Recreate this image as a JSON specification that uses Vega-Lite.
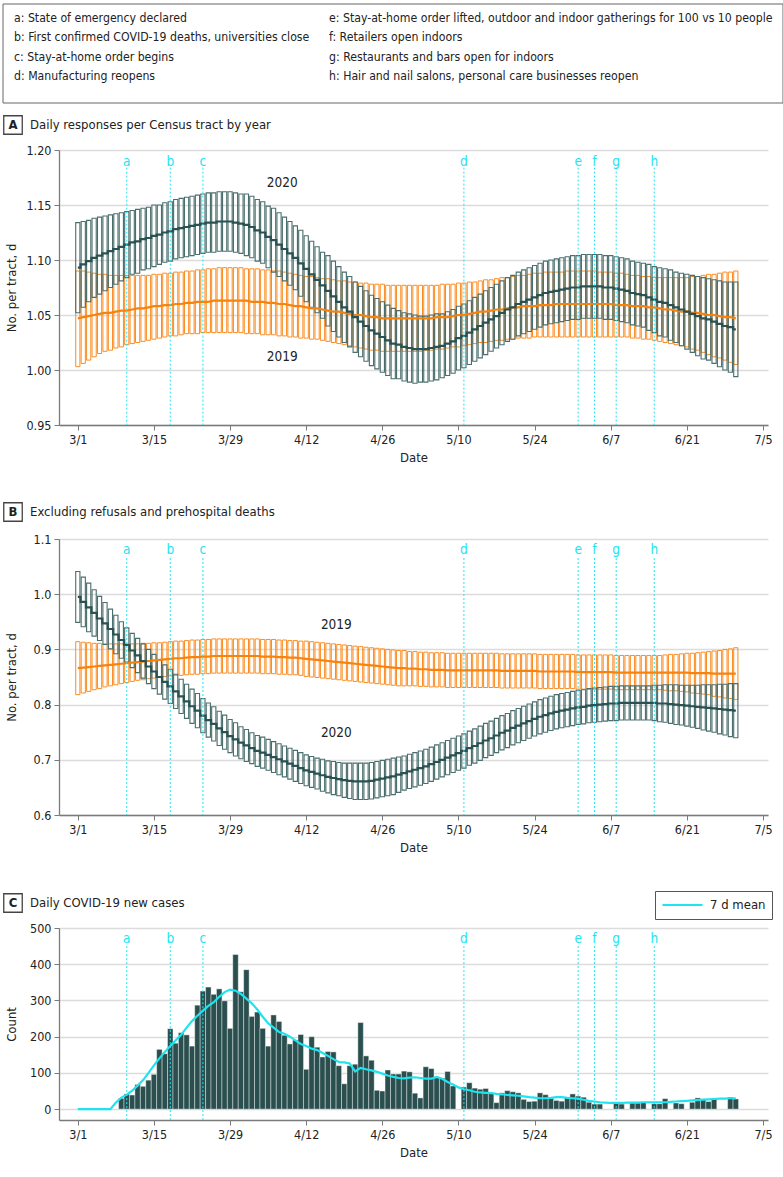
{
"$schema": "https://vega.github.io/schema/vega-lite/v6.json",
"padding": {"left": 1, "top": 3, "right": 0, "bottom": 0},
"background": "white",
"spacing": 0,
"config": {
  "font": "Liberation Sans Narrow, Arial Narrow, DejaVu Sans Condensed, sans-serif",
  "view": {"stroke": null},
  "axis": {"labelFont": "Liberation Sans Narrow, Arial Narrow, DejaVu Sans Condensed, sans-serif", "titleFont": "Liberation Sans Narrow, Arial Narrow, DejaVu Sans Condensed, sans-serif", "labelFontSize": 12.5, "titleFontSize": 13, "titleFontWeight": "normal", "labelColor": "#222", "titleColor": "#222", "domainColor": "#7a7a7a", "domainWidth": 1.3, "tickColor": "#7a7a7a", "tickSize": 5, "labelPadding": 3, "gridColor": "#dcdcdc", "gridWidth": 1.5, "labelOverlap": false},
  "axisX": {"grid": false, "titlePadding": 6, "labelFlush": false},
  "axisY": {"grid": true, "minExtent": 34, "maxExtent": 34, "titlePadding": 7}
},
"datasets": {
"legendText": [
{"col":0,"row":0,"text":"a: State of emergency declared"},
{"col":0,"row":1,"text":"b: First confirmed COVID-19 deaths, universities close"},
{"col":0,"row":2,"text":"c: Stay-at-home order begins"},
{"col":0,"row":3,"text":"d: Manufacturing reopens"},
{"col":1,"row":0,"text":"e: Stay-at-home order lifted, outdoor and indoor gatherings for 100 vs 10 people"},
{"col":1,"row":1,"text":"f: Retailers open indoors"},
{"col":1,"row":2,"text":"g: Restaurants and bars open for indoors"},
{"col":1,"row":3,"text":"h: Hair and nail salons, personal care businesses reopen"}
],
"events": [
{"ev":"a","date":"2020-03-10"},{"ev":"b","date":"2020-03-18"},{"ev":"c","date":"2020-03-24"},{"ev":"d","date":"2020-05-11"},
{"ev":"e","date":"2020-06-01"},{"ev":"f","date":"2020-06-04"},{"ev":"g","date":"2020-06-08"},{"ev":"h","date":"2020-06-15"}
],
"cases": [
{"date":"2020-03-09","n":30},{"date":"2020-03-10","n":42},{"date":"2020-03-11","n":39},{"date":"2020-03-12","n":68},{"date":"2020-03-13","n":63},{"date":"2020-03-14","n":80},{"date":"2020-03-15","n":96},{"date":"2020-03-16","n":165},{"date":"2020-03-17","n":153},{"date":"2020-03-18","n":222},{"date":"2020-03-19","n":182},{"date":"2020-03-20","n":211},{"date":"2020-03-21","n":205},{"date":"2020-03-22","n":174},{"date":"2020-03-23","n":287},{"date":"2020-03-24","n":326},{"date":"2020-03-25","n":337},{"date":"2020-03-26","n":317},{"date":"2020-03-27","n":332},{"date":"2020-03-28","n":299},{"date":"2020-03-29","n":223},{"date":"2020-03-30","n":427},{"date":"2020-03-31","n":324},
{"date":"2020-04-01","n":385},{"date":"2020-04-02","n":256},{"date":"2020-04-03","n":268},{"date":"2020-04-04","n":223},{"date":"2020-04-05","n":174},{"date":"2020-04-06","n":260},{"date":"2020-04-07","n":242},{"date":"2020-04-08","n":204},{"date":"2020-04-09","n":180},{"date":"2020-04-10","n":191},{"date":"2020-04-11","n":206},{"date":"2020-04-12","n":110},{"date":"2020-04-13","n":200},{"date":"2020-04-14","n":171},{"date":"2020-04-15","n":144},{"date":"2020-04-16","n":159},{"date":"2020-04-17","n":158},{"date":"2020-04-18","n":120},{"date":"2020-04-19","n":70},{"date":"2020-04-20","n":120},{"date":"2020-04-21","n":124},{"date":"2020-04-22","n":239},{"date":"2020-04-23","n":147},{"date":"2020-04-24","n":135},{"date":"2020-04-25","n":52},{"date":"2020-04-26","n":50},{"date":"2020-04-27","n":108},{"date":"2020-04-28","n":97},{"date":"2020-04-29","n":97},{"date":"2020-04-30","n":105},
{"date":"2020-05-01","n":103},{"date":"2020-05-02","n":44},{"date":"2020-05-03","n":31},{"date":"2020-05-04","n":117},{"date":"2020-05-05","n":112},{"date":"2020-05-06","n":87},{"date":"2020-05-07","n":86},{"date":"2020-05-08","n":104},{"date":"2020-05-09","n":64},{"date":"2020-05-11","n":61},{"date":"2020-05-12","n":73},{"date":"2020-05-13","n":58},{"date":"2020-05-14","n":55},{"date":"2020-05-15","n":57},{"date":"2020-05-16","n":44},{"date":"2020-05-17","n":18},{"date":"2020-05-18","n":45},{"date":"2020-05-19","n":51},{"date":"2020-05-20","n":48},{"date":"2020-05-21","n":45},{"date":"2020-05-22","n":27},{"date":"2020-05-23","n":21},{"date":"2020-05-24","n":22},{"date":"2020-05-25","n":45},{"date":"2020-05-26","n":40},{"date":"2020-05-27","n":30},{"date":"2020-05-28","n":24},{"date":"2020-05-29","n":22},{"date":"2020-05-30","n":33},{"date":"2020-05-31","n":42},
{"date":"2020-06-01","n":36},{"date":"2020-06-02","n":33},{"date":"2020-06-03","n":19},{"date":"2020-06-04","n":14},{"date":"2020-06-05","n":14},{"date":"2020-06-08","n":19},{"date":"2020-06-09","n":14},{"date":"2020-06-11","n":17},{"date":"2020-06-12","n":17},{"date":"2020-06-13","n":19},{"date":"2020-06-15","n":15},{"date":"2020-06-16","n":15},{"date":"2020-06-17","n":29},{"date":"2020-06-19","n":17},{"date":"2020-06-20","n":15},{"date":"2020-06-22","n":19},{"date":"2020-06-23","n":31},{"date":"2020-06-24","n":28},{"date":"2020-06-25","n":21},{"date":"2020-06-26","n":29},{"date":"2020-06-29","n":33},{"date":"2020-06-30","n":28}
],
"daily": [
{"date":"2020-03-01","a20":1.093,"a20lo":1.052,"a20hi":1.134,"a19":1.047,"a19lo":1.003,"a19hi":1.090,"b20":0.995,"b20lo":0.949,"b20hi":1.041,"b19":0.866,"b19lo":0.818,"b19hi":0.914,"mean7":0},
{"date":"2020-03-02","a20":1.096,"a20lo":1.057,"a20hi":1.135,"a19":1.048,"a19lo":1.006,"a19hi":1.090,"b20":0.986,"b20lo":0.941,"b20hi":1.031,"b19":0.867,"b19lo":0.821,"b19hi":0.913,"mean7":0},
{"date":"2020-03-03","a20":1.099,"a20lo":1.062,"a20hi":1.136,"a19":1.049,"a19lo":1.009,"a19hi":1.089,"b20":0.976,"b20lo":0.932,"b20hi":1.020,"b19":0.868,"b19lo":0.824,"b19hi":0.912,"mean7":0},
{"date":"2020-03-04","a20":1.102,"a20lo":1.066,"a20hi":1.138,"a19":1.050,"a19lo":1.012,"a19hi":1.088,"b20":0.966,"b20lo":0.924,"b20hi":1.008,"b19":0.869,"b19lo":0.827,"b19hi":0.911,"mean7":0},
{"date":"2020-03-05","a20":1.104,"a20lo":1.069,"a20hi":1.139,"a19":1.051,"a19lo":1.015,"a19hi":1.087,"b20":0.956,"b20lo":0.916,"b20hi":0.996,"b19":0.870,"b19lo":0.829,"b19hi":0.911,"mean7":0},
{"date":"2020-03-06","a20":1.106,"a20lo":1.072,"a20hi":1.140,"a19":1.052,"a19lo":1.017,"a19hi":1.087,"b20":0.947,"b20lo":0.909,"b20hi":0.985,"b19":0.871,"b19lo":0.832,"b19hi":0.910,"mean7":0},
{"date":"2020-03-07","a20":1.108,"a20lo":1.075,"a20hi":1.141,"a19":1.052,"a19lo":1.018,"a19hi":1.086,"b20":0.937,"b20lo":0.901,"b20hi":0.973,"b19":0.872,"b19lo":0.834,"b19hi":0.910,"mean7":0},
{"date":"2020-03-08","a20":1.110,"a20lo":1.078,"a20hi":1.142,"a19":1.053,"a19lo":1.020,"a19hi":1.086,"b20":0.927,"b20lo":0.892,"b20hi":0.962,"b19":0.873,"b19lo":0.836,"b19hi":0.910,"mean7":18},
{"date":"2020-03-09","a20":1.112,"a20lo":1.081,"a20hi":1.143,"a19":1.054,"a19lo":1.021,"a19hi":1.086,"b20":0.917,"b20lo":0.884,"b20hi":0.950,"b19":0.874,"b19lo":0.838,"b19hi":0.910,"mean7":32},
{"date":"2020-03-10","a20":1.114,"a20lo":1.084,"a20hi":1.144,"a19":1.054,"a19lo":1.023,"a19hi":1.086,"b20":0.908,"b20lo":0.877,"b20hi":0.939,"b19":0.875,"b19lo":0.840,"b19hi":0.910,"mean7":40},
{"date":"2020-03-11","a20":1.116,"a20lo":1.087,"a20hi":1.145,"a19":1.055,"a19lo":1.024,"a19hi":1.086,"b20":0.898,"b20lo":0.867,"b20hi":0.929,"b19":0.876,"b19lo":0.842,"b19hi":0.910,"mean7":51},
{"date":"2020-03-12","a20":1.117,"a20lo":1.088,"a20hi":1.146,"a19":1.056,"a19lo":1.025,"a19hi":1.086,"b20":0.889,"b20lo":0.858,"b20hi":0.920,"b19":0.877,"b19lo":0.844,"b19hi":0.910,"mean7":65},
{"date":"2020-03-13","a20":1.119,"a20lo":1.091,"a20hi":1.147,"a19":1.056,"a19lo":1.026,"a19hi":1.086,"b20":0.879,"b20lo":0.848,"b20hi":0.910,"b19":0.878,"b19lo":0.845,"b19hi":0.911,"mean7":80},
{"date":"2020-03-14","a20":1.120,"a20lo":1.092,"a20hi":1.148,"a19":1.057,"a19lo":1.027,"a19hi":1.086,"b20":0.869,"b20lo":0.838,"b20hi":0.900,"b19":0.879,"b19lo":0.847,"b19hi":0.911,"mean7":100},
{"date":"2020-03-15","a20":1.122,"a20lo":1.094,"a20hi":1.150,"a19":1.058,"a19lo":1.028,"a19hi":1.087,"b20":0.860,"b20lo":0.829,"b20hi":0.891,"b19":0.880,"b19lo":0.848,"b19hi":0.912,"mean7":121},
{"date":"2020-03-16","a20":1.123,"a20lo":1.096,"a20hi":1.150,"a19":1.058,"a19lo":1.029,"a19hi":1.087,"b20":0.850,"b20lo":0.819,"b20hi":0.881,"b19":0.881,"b19lo":0.850,"b19hi":0.912,"mean7":140},
{"date":"2020-03-17","a20":1.125,"a20lo":1.098,"a20hi":1.152,"a19":1.059,"a19lo":1.030,"a19hi":1.088,"b20":0.841,"b20lo":0.810,"b20hi":0.872,"b19":0.882,"b19lo":0.851,"b19hi":0.913,"mean7":158},
{"date":"2020-03-18","a20":1.126,"a20lo":1.099,"a20hi":1.153,"a19":1.059,"a19lo":1.031,"a19hi":1.088,"b20":0.833,"b20lo":0.802,"b20hi":0.864,"b19":0.883,"b19lo":0.852,"b19hi":0.914,"mean7":174},
{"date":"2020-03-19","a20":1.128,"a20lo":1.101,"a20hi":1.155,"a19":1.060,"a19lo":1.031,"a19hi":1.089,"b20":0.824,"b20lo":0.793,"b20hi":0.855,"b19":0.884,"b19lo":0.853,"b19hi":0.915,"mean7":190},
{"date":"2020-03-20","a20":1.129,"a20lo":1.102,"a20hi":1.156,"a19":1.060,"a19lo":1.032,"a19hi":1.089,"b20":0.815,"b20lo":0.784,"b20hi":0.846,"b19":0.884,"b19lo":0.853,"b19hi":0.915,"mean7":205},
{"date":"2020-03-21","a20":1.130,"a20lo":1.103,"a20hi":1.157,"a19":1.061,"a19lo":1.033,"a19hi":1.090,"b20":0.806,"b20lo":0.775,"b20hi":0.837,"b19":0.885,"b19lo":0.854,"b19hi":0.916,"mean7":225},
{"date":"2020-03-22","a20":1.131,"a20lo":1.104,"a20hi":1.158,"a19":1.061,"a19lo":1.033,"a19hi":1.090,"b20":0.797,"b20lo":0.766,"b20hi":0.828,"b19":0.886,"b19lo":0.855,"b19hi":0.917,"mean7":243},
{"date":"2020-03-23","a20":1.132,"a20lo":1.105,"a20hi":1.159,"a19":1.062,"a19lo":1.033,"a19hi":1.091,"b20":0.789,"b20lo":0.758,"b20hi":0.820,"b19":0.886,"b19lo":0.855,"b19hi":0.917,"mean7":258},
{"date":"2020-03-24","a20":1.133,"a20lo":1.106,"a20hi":1.160,"a19":1.062,"a19lo":1.034,"a19hi":1.091,"b20":0.780,"b20lo":0.749,"b20hi":0.811,"b19":0.887,"b19lo":0.856,"b19hi":0.918,"mean7":272},
{"date":"2020-03-25","a20":1.134,"a20lo":1.107,"a20hi":1.161,"a19":1.062,"a19lo":1.034,"a19hi":1.092,"b20":0.772,"b20lo":0.741,"b20hi":0.803,"b19":0.887,"b19lo":0.856,"b19hi":0.918,"mean7":285},
{"date":"2020-03-26","a20":1.134,"a20lo":1.107,"a20hi":1.161,"a19":1.063,"a19lo":1.034,"a19hi":1.092,"b20":0.765,"b20lo":0.734,"b20hi":0.796,"b19":0.888,"b19lo":0.857,"b19hi":0.919,"mean7":295},
{"date":"2020-03-27","a20":1.135,"a20lo":1.108,"a20hi":1.162,"a19":1.063,"a19lo":1.034,"a19hi":1.093,"b20":0.757,"b20lo":0.726,"b20hi":0.788,"b19":0.888,"b19lo":0.857,"b19hi":0.919,"mean7":310},
{"date":"2020-03-28","a20":1.135,"a20lo":1.108,"a20hi":1.162,"a19":1.063,"a19lo":1.034,"a19hi":1.093,"b20":0.750,"b20lo":0.719,"b20hi":0.781,"b19":0.888,"b19lo":0.857,"b19hi":0.919,"mean7":323},
{"date":"2020-03-29","a20":1.135,"a20lo":1.108,"a20hi":1.162,"a19":1.063,"a19lo":1.034,"a19hi":1.093,"b20":0.743,"b20lo":0.713,"b20hi":0.773,"b19":0.888,"b19lo":0.857,"b19hi":0.919,"mean7":330},
{"date":"2020-03-30","a20":1.134,"a20lo":1.107,"a20hi":1.161,"a19":1.063,"a19lo":1.034,"a19hi":1.093,"b20":0.737,"b20lo":0.707,"b20hi":0.767,"b19":0.888,"b19lo":0.857,"b19hi":0.919,"mean7":327},
{"date":"2020-03-31","a20":1.133,"a20lo":1.106,"a20hi":1.160,"a19":1.063,"a19lo":1.034,"a19hi":1.093,"b20":0.731,"b20lo":0.702,"b20hi":0.760,"b19":0.888,"b19lo":0.857,"b19hi":0.919,"mean7":318},
{"date":"2020-04-01","a20":1.132,"a20lo":1.104,"a20hi":1.160,"a19":1.063,"a19lo":1.033,"a19hi":1.092,"b20":0.726,"b20lo":0.697,"b20hi":0.755,"b19":0.888,"b19lo":0.857,"b19hi":0.919,"mean7":305},
{"date":"2020-04-02","a20":1.130,"a20lo":1.102,"a20hi":1.158,"a19":1.062,"a19lo":1.033,"a19hi":1.092,"b20":0.721,"b20lo":0.693,"b20hi":0.749,"b19":0.888,"b19lo":0.857,"b19hi":0.919,"mean7":292},
{"date":"2020-04-03","a20":1.127,"a20lo":1.099,"a20hi":1.155,"a19":1.062,"a19lo":1.033,"a19hi":1.092,"b20":0.716,"b20lo":0.688,"b20hi":0.744,"b19":0.888,"b19lo":0.857,"b19hi":0.919,"mean7":275},
{"date":"2020-04-04","a20":1.125,"a20lo":1.097,"a20hi":1.153,"a19":1.062,"a19lo":1.032,"a19hi":1.091,"b20":0.713,"b20lo":0.685,"b20hi":0.741,"b19":0.887,"b19lo":0.856,"b19hi":0.918,"mean7":255},
{"date":"2020-04-05","a20":1.121,"a20lo":1.093,"a20hi":1.149,"a19":1.061,"a19lo":1.032,"a19hi":1.091,"b20":0.709,"b20lo":0.681,"b20hi":0.737,"b19":0.887,"b19lo":0.856,"b19hi":0.918,"mean7":237},
{"date":"2020-04-06","a20":1.118,"a20lo":1.089,"a20hi":1.147,"a19":1.061,"a19lo":1.032,"a19hi":1.090,"b20":0.705,"b20lo":0.677,"b20hi":0.733,"b19":0.887,"b19lo":0.856,"b19hi":0.918,"mean7":225},
{"date":"2020-04-07","a20":1.114,"a20lo":1.085,"a20hi":1.143,"a19":1.060,"a19lo":1.031,"a19hi":1.090,"b20":0.701,"b20lo":0.673,"b20hi":0.729,"b19":0.886,"b19lo":0.855,"b19hi":0.917,"mean7":213},
{"date":"2020-04-08","a20":1.110,"a20lo":1.081,"a20hi":1.139,"a19":1.060,"a19lo":1.031,"a19hi":1.089,"b20":0.697,"b20lo":0.669,"b20hi":0.725,"b19":0.886,"b19lo":0.855,"b19hi":0.917,"mean7":208},
{"date":"2020-04-09","a20":1.106,"a20lo":1.077,"a20hi":1.135,"a19":1.059,"a19lo":1.030,"a19hi":1.088,"b20":0.693,"b20lo":0.665,"b20hi":0.721,"b19":0.885,"b19lo":0.854,"b19hi":0.916,"mean7":200},
{"date":"2020-04-10","a20":1.102,"a20lo":1.073,"a20hi":1.131,"a19":1.058,"a19lo":1.030,"a19hi":1.087,"b20":0.689,"b20lo":0.661,"b20hi":0.717,"b19":0.885,"b19lo":0.854,"b19hi":0.916,"mean7":190},
{"date":"2020-04-11","a20":1.097,"a20lo":1.067,"a20hi":1.127,"a19":1.058,"a19lo":1.029,"a19hi":1.086,"b20":0.685,"b20lo":0.657,"b20hi":0.713,"b19":0.884,"b19lo":0.853,"b19hi":0.915,"mean7":180},
{"date":"2020-04-12","a20":1.092,"a20lo":1.062,"a20hi":1.122,"a19":1.057,"a19lo":1.029,"a19hi":1.085,"b20":0.681,"b20lo":0.653,"b20hi":0.709,"b19":0.883,"b19lo":0.851,"b19hi":0.915,"mean7":174},
{"date":"2020-04-13","a20":1.087,"a20lo":1.057,"a20hi":1.117,"a19":1.056,"a19lo":1.028,"a19hi":1.085,"b20":0.678,"b20lo":0.650,"b20hi":0.706,"b19":0.882,"b19lo":0.850,"b19hi":0.914,"mean7":167},
{"date":"2020-04-14","a20":1.082,"a20lo":1.052,"a20hi":1.112,"a19":1.056,"a19lo":1.028,"a19hi":1.084,"b20":0.675,"b20lo":0.647,"b20hi":0.703,"b19":0.881,"b19lo":0.849,"b19hi":0.913,"mean7":163},
{"date":"2020-04-15","a20":1.077,"a20lo":1.047,"a20hi":1.107,"a19":1.055,"a19lo":1.027,"a19hi":1.083,"b20":0.672,"b20lo":0.643,"b20hi":0.701,"b19":0.880,"b19lo":0.848,"b19hi":0.912,"mean7":155},
{"date":"2020-04-16","a20":1.072,"a20lo":1.040,"a20hi":1.104,"a19":1.054,"a19lo":1.026,"a19hi":1.083,"b20":0.669,"b20lo":0.640,"b20hi":0.698,"b19":0.879,"b19lo":0.847,"b19hi":0.911,"mean7":147},
{"date":"2020-04-17","a20":1.067,"a20lo":1.035,"a20hi":1.099,"a19":1.053,"a19lo":1.025,"a19hi":1.082,"b20":0.667,"b20lo":0.637,"b20hi":0.697,"b19":0.878,"b19lo":0.846,"b19hi":0.910,"mean7":138},
{"date":"2020-04-18","a20":1.062,"a20lo":1.030,"a20hi":1.094,"a19":1.053,"a19lo":1.024,"a19hi":1.081,"b20":0.665,"b20lo":0.635,"b20hi":0.695,"b19":0.877,"b19lo":0.845,"b19hi":0.909,"mean7":130},
{"date":"2020-04-19","a20":1.057,"a20lo":1.025,"a20hi":1.089,"a19":1.052,"a19lo":1.023,"a19hi":1.081,"b20":0.663,"b20lo":0.632,"b20hi":0.694,"b19":0.876,"b19lo":0.844,"b19hi":0.908,"mean7":129},
{"date":"2020-04-20","a20":1.053,"a20lo":1.021,"a20hi":1.085,"a19":1.051,"a19lo":1.022,"a19hi":1.080,"b20":0.662,"b20lo":0.630,"b20hi":0.694,"b19":0.875,"b19lo":0.843,"b19hi":0.907,"mean7":126},
{"date":"2020-04-21","a20":1.048,"a20lo":1.016,"a20hi":1.080,"a19":1.050,"a19lo":1.021,"a19hi":1.080,"b20":0.661,"b20lo":0.628,"b20hi":0.694,"b19":0.874,"b19lo":0.842,"b19hi":0.906,"mean7":104},
{"date":"2020-04-22","a20":1.044,"a20lo":1.012,"a20hi":1.076,"a19":1.050,"a19lo":1.020,"a19hi":1.079,"b20":0.661,"b20lo":0.628,"b20hi":0.694,"b19":0.873,"b19lo":0.841,"b19hi":0.905,"mean7":114},
{"date":"2020-04-23","a20":1.040,"a20lo":1.008,"a20hi":1.072,"a19":1.049,"a19lo":1.019,"a19hi":1.079,"b20":0.661,"b20lo":0.628,"b20hi":0.694,"b19":0.872,"b19lo":0.840,"b19hi":0.904,"mean7":110},
{"date":"2020-04-24","a20":1.036,"a20lo":1.004,"a20hi":1.068,"a19":1.048,"a19lo":1.018,"a19hi":1.078,"b20":0.662,"b20lo":0.629,"b20hi":0.695,"b19":0.871,"b19lo":0.839,"b19hi":0.903,"mean7":107},
{"date":"2020-04-25","a20":1.033,"a20lo":1.001,"a20hi":1.065,"a19":1.048,"a19lo":1.018,"a19hi":1.078,"b20":0.664,"b20lo":0.631,"b20hi":0.697,"b19":0.870,"b19lo":0.838,"b19hi":0.902,"mean7":103},
{"date":"2020-04-26","a20":1.030,"a20lo":0.998,"a20hi":1.062,"a19":1.047,"a19lo":1.017,"a19hi":1.078,"b20":0.666,"b20lo":0.633,"b20hi":0.699,"b19":0.869,"b19lo":0.837,"b19hi":0.901,"mean7":98},
{"date":"2020-04-27","a20":1.027,"a20lo":0.995,"a20hi":1.059,"a19":1.047,"a19lo":1.017,"a19hi":1.077,"b20":0.668,"b20lo":0.635,"b20hi":0.701,"b19":0.868,"b19lo":0.836,"b19hi":0.900,"mean7":93},
{"date":"2020-04-28","a20":1.024,"a20lo":0.992,"a20hi":1.056,"a19":1.047,"a19lo":1.017,"a19hi":1.077,"b20":0.670,"b20lo":0.637,"b20hi":0.703,"b19":0.867,"b19lo":0.835,"b19hi":0.899,"mean7":89},
{"date":"2020-04-29","a20":1.023,"a20lo":0.992,"a20hi":1.054,"a19":1.047,"a19lo":1.017,"a19hi":1.077,"b20":0.673,"b20lo":0.641,"b20hi":0.705,"b19":0.866,"b19lo":0.834,"b19hi":0.898,"mean7":86},
{"date":"2020-04-30","a20":1.021,"a20lo":0.990,"a20hi":1.052,"a19":1.047,"a19lo":1.017,"a19hi":1.077,"b20":0.676,"b20lo":0.645,"b20hi":0.707,"b19":0.866,"b19lo":0.834,"b19hi":0.898,"mean7":85},
{"date":"2020-05-01","a20":1.020,"a20lo":0.989,"a20hi":1.051,"a19":1.047,"a19lo":1.017,"a19hi":1.077,"b20":0.679,"b20lo":0.648,"b20hi":0.710,"b19":0.865,"b19lo":0.834,"b19hi":0.896,"mean7":87},
{"date":"2020-05-02","a20":1.019,"a20lo":0.988,"a20hi":1.050,"a19":1.047,"a19lo":1.017,"a19hi":1.077,"b20":0.682,"b20lo":0.651,"b20hi":0.713,"b19":0.865,"b19lo":0.834,"b19hi":0.896,"mean7":88},
{"date":"2020-05-03","a20":1.019,"a20lo":0.989,"a20hi":1.049,"a19":1.047,"a19lo":1.017,"a19hi":1.077,"b20":0.685,"b20lo":0.654,"b20hi":0.716,"b19":0.864,"b19lo":0.833,"b19hi":0.895,"mean7":86},
{"date":"2020-05-04","a20":1.019,"a20lo":0.989,"a20hi":1.049,"a19":1.047,"a19lo":1.018,"a19hi":1.077,"b20":0.688,"b20lo":0.657,"b20hi":0.719,"b19":0.864,"b19lo":0.833,"b19hi":0.895,"mean7":84},
{"date":"2020-05-05","a20":1.020,"a20lo":0.990,"a20hi":1.050,"a19":1.047,"a19lo":1.018,"a19hi":1.077,"b20":0.692,"b20lo":0.661,"b20hi":0.723,"b19":0.863,"b19lo":0.832,"b19hi":0.894,"mean7":84},
{"date":"2020-05-06","a20":1.021,"a20lo":0.991,"a20hi":1.051,"a19":1.048,"a19lo":1.019,"a19hi":1.077,"b20":0.696,"b20lo":0.665,"b20hi":0.727,"b19":0.863,"b19lo":0.832,"b19hi":0.894,"mean7":89},
{"date":"2020-05-07","a20":1.022,"a20lo":0.993,"a20hi":1.051,"a19":1.048,"a19lo":1.019,"a19hi":1.078,"b20":0.700,"b20lo":0.669,"b20hi":0.731,"b19":0.863,"b19lo":0.832,"b19hi":0.894,"mean7":84},
{"date":"2020-05-08","a20":1.024,"a20lo":0.995,"a20hi":1.053,"a19":1.048,"a19lo":1.020,"a19hi":1.078,"b20":0.704,"b20lo":0.673,"b20hi":0.735,"b19":0.862,"b19lo":0.831,"b19hi":0.893,"mean7":75},
{"date":"2020-05-09","a20":1.026,"a20lo":0.997,"a20hi":1.055,"a19":1.049,"a19lo":1.021,"a19hi":1.078,"b20":0.708,"b20lo":0.677,"b20hi":0.739,"b19":0.862,"b19lo":0.831,"b19hi":0.893,"mean7":68},
{"date":"2020-05-10","a20":1.029,"a20lo":1.000,"a20hi":1.058,"a19":1.050,"a19lo":1.021,"a19hi":1.079,"b20":0.712,"b20lo":0.681,"b20hi":0.743,"b19":0.862,"b19lo":0.831,"b19hi":0.893,"mean7":60},
{"date":"2020-05-11","a20":1.031,"a20lo":1.002,"a20hi":1.060,"a19":1.050,"a19lo":1.022,"a19hi":1.079,"b20":0.716,"b20lo":0.685,"b20hi":0.747,"b19":0.862,"b19lo":0.831,"b19hi":0.893,"mean7":55},
{"date":"2020-05-12","a20":1.034,"a20lo":1.005,"a20hi":1.063,"a19":1.051,"a19lo":1.023,"a19hi":1.080,"b20":0.721,"b20lo":0.690,"b20hi":0.752,"b19":0.862,"b19lo":0.831,"b19hi":0.893,"mean7":52},
{"date":"2020-05-13","a20":1.037,"a20lo":1.008,"a20hi":1.066,"a19":1.052,"a19lo":1.024,"a19hi":1.080,"b20":0.725,"b20lo":0.694,"b20hi":0.756,"b19":0.862,"b19lo":0.831,"b19hi":0.893,"mean7":48},
{"date":"2020-05-14","a20":1.040,"a20lo":1.011,"a20hi":1.069,"a19":1.053,"a19lo":1.025,"a19hi":1.081,"b20":0.730,"b20lo":0.699,"b20hi":0.761,"b19":0.862,"b19lo":0.831,"b19hi":0.893,"mean7":46},
{"date":"2020-05-15","a20":1.043,"a20lo":1.014,"a20hi":1.072,"a19":1.053,"a19lo":1.025,"a19hi":1.082,"b20":0.735,"b20lo":0.704,"b20hi":0.766,"b19":0.862,"b19lo":0.831,"b19hi":0.893,"mean7":45},
{"date":"2020-05-16","a20":1.046,"a20lo":1.017,"a20hi":1.075,"a19":1.054,"a19lo":1.026,"a19hi":1.082,"b20":0.739,"b20lo":0.708,"b20hi":0.770,"b19":0.862,"b19lo":0.831,"b19hi":0.893,"mean7":44},
{"date":"2020-05-17","a20":1.049,"a20lo":1.020,"a20hi":1.078,"a19":1.055,"a19lo":1.027,"a19hi":1.083,"b20":0.744,"b20lo":0.713,"b20hi":0.775,"b19":0.862,"b19lo":0.831,"b19hi":0.893,"mean7":42},
{"date":"2020-05-18","a20":1.052,"a20lo":1.023,"a20hi":1.081,"a19":1.055,"a19lo":1.027,"a19hi":1.084,"b20":0.749,"b20lo":0.718,"b20hi":0.780,"b19":0.861,"b19lo":0.830,"b19hi":0.892,"mean7":41},
{"date":"2020-05-19","a20":1.055,"a20lo":1.026,"a20hi":1.084,"a19":1.056,"a19lo":1.028,"a19hi":1.084,"b20":0.753,"b20lo":0.722,"b20hi":0.784,"b19":0.861,"b19lo":0.830,"b19hi":0.892,"mean7":39},
{"date":"2020-05-20","a20":1.057,"a20lo":1.028,"a20hi":1.086,"a19":1.057,"a19lo":1.028,"a19hi":1.085,"b20":0.758,"b20lo":0.727,"b20hi":0.789,"b19":0.861,"b19lo":0.830,"b19hi":0.892,"mean7":38},
{"date":"2020-05-21","a20":1.060,"a20lo":1.031,"a20hi":1.089,"a19":1.057,"a19lo":1.029,"a19hi":1.086,"b20":0.762,"b20lo":0.731,"b20hi":0.793,"b19":0.861,"b19lo":0.830,"b19hi":0.892,"mean7":37},
{"date":"2020-05-22","a20":1.062,"a20lo":1.033,"a20hi":1.091,"a19":1.058,"a19lo":1.029,"a19hi":1.086,"b20":0.766,"b20lo":0.735,"b20hi":0.797,"b19":0.861,"b19lo":0.830,"b19hi":0.892,"mean7":35},
{"date":"2020-05-23","a20":1.064,"a20lo":1.035,"a20hi":1.093,"a19":1.058,"a19lo":1.029,"a19hi":1.087,"b20":0.770,"b20lo":0.739,"b20hi":0.801,"b19":0.861,"b19lo":0.830,"b19hi":0.892,"mean7":33},
{"date":"2020-05-24","a20":1.066,"a20lo":1.037,"a20hi":1.095,"a19":1.058,"a19lo":1.030,"a19hi":1.088,"b20":0.774,"b20lo":0.743,"b20hi":0.805,"b19":0.861,"b19lo":0.830,"b19hi":0.892,"mean7":32},
{"date":"2020-05-25","a20":1.068,"a20lo":1.039,"a20hi":1.097,"a19":1.059,"a19lo":1.030,"a19hi":1.088,"b20":0.778,"b20lo":0.747,"b20hi":0.809,"b19":0.860,"b19lo":0.829,"b19hi":0.891,"mean7":30},
{"date":"2020-05-26","a20":1.070,"a20lo":1.041,"a20hi":1.099,"a19":1.059,"a19lo":1.030,"a19hi":1.089,"b20":0.781,"b20lo":0.750,"b20hi":0.812,"b19":0.860,"b19lo":0.829,"b19hi":0.891,"mean7":30},
{"date":"2020-05-27","a20":1.071,"a20lo":1.042,"a20hi":1.100,"a19":1.059,"a19lo":1.030,"a19hi":1.089,"b20":0.784,"b20lo":0.753,"b20hi":0.815,"b19":0.860,"b19lo":0.829,"b19hi":0.891,"mean7":31},
{"date":"2020-05-28","a20":1.072,"a20lo":1.043,"a20hi":1.101,"a19":1.060,"a19lo":1.030,"a19hi":1.089,"b20":0.787,"b20lo":0.756,"b20hi":0.818,"b19":0.860,"b19lo":0.829,"b19hi":0.891,"mean7":33},
{"date":"2020-05-29","a20":1.073,"a20lo":1.044,"a20hi":1.102,"a19":1.060,"a19lo":1.030,"a19hi":1.089,"b20":0.789,"b20lo":0.758,"b20hi":0.820,"b19":0.860,"b19lo":0.829,"b19hi":0.891,"mean7":33},
{"date":"2020-05-30","a20":1.074,"a20lo":1.045,"a20hi":1.103,"a19":1.060,"a19lo":1.030,"a19hi":1.090,"b20":0.791,"b20lo":0.760,"b20hi":0.822,"b19":0.860,"b19lo":0.829,"b19hi":0.891,"mean7":31},
{"date":"2020-05-31","a20":1.075,"a20lo":1.046,"a20hi":1.104,"a19":1.060,"a19lo":1.030,"a19hi":1.090,"b20":0.793,"b20lo":0.762,"b20hi":0.824,"b19":0.860,"b19lo":0.829,"b19hi":0.891,"mean7":30},
{"date":"2020-06-01","a20":1.075,"a20lo":1.046,"a20hi":1.104,"a19":1.060,"a19lo":1.030,"a19hi":1.090,"b20":0.795,"b20lo":0.764,"b20hi":0.826,"b19":0.859,"b19lo":0.828,"b19hi":0.890,"mean7":29},
{"date":"2020-06-02","a20":1.076,"a20lo":1.047,"a20hi":1.105,"a19":1.060,"a19lo":1.030,"a19hi":1.090,"b20":0.796,"b20lo":0.765,"b20hi":0.827,"b19":0.859,"b19lo":0.828,"b19hi":0.890,"mean7":26},
{"date":"2020-06-03","a20":1.076,"a20lo":1.047,"a20hi":1.105,"a19":1.060,"a19lo":1.030,"a19hi":1.090,"b20":0.798,"b20lo":0.767,"b20hi":0.829,"b19":0.859,"b19lo":0.828,"b19hi":0.890,"mean7":23},
{"date":"2020-06-04","a20":1.076,"a20lo":1.047,"a20hi":1.105,"a19":1.060,"a19lo":1.030,"a19hi":1.090,"b20":0.799,"b20lo":0.768,"b20hi":0.830,"b19":0.859,"b19lo":0.828,"b19hi":0.890,"mean7":21},
{"date":"2020-06-05","a20":1.076,"a20lo":1.047,"a20hi":1.105,"a19":1.060,"a19lo":1.030,"a19hi":1.089,"b20":0.800,"b20lo":0.769,"b20hi":0.831,"b19":0.859,"b19lo":0.828,"b19hi":0.890,"mean7":19},
{"date":"2020-06-06","a20":1.075,"a20lo":1.046,"a20hi":1.104,"a19":1.060,"a19lo":1.030,"a19hi":1.089,"b20":0.801,"b20lo":0.770,"b20hi":0.832,"b19":0.859,"b19lo":0.828,"b19hi":0.890,"mean7":18},
{"date":"2020-06-07","a20":1.075,"a20lo":1.046,"a20hi":1.104,"a19":1.060,"a19lo":1.030,"a19hi":1.089,"b20":0.802,"b20lo":0.771,"b20hi":0.833,"b19":0.859,"b19lo":0.828,"b19hi":0.890,"mean7":17},
{"date":"2020-06-08","a20":1.074,"a20lo":1.045,"a20hi":1.103,"a19":1.059,"a19lo":1.030,"a19hi":1.088,"b20":0.802,"b20lo":0.771,"b20hi":0.833,"b19":0.858,"b19lo":0.827,"b19hi":0.889,"mean7":17},
{"date":"2020-06-09","a20":1.073,"a20lo":1.044,"a20hi":1.102,"a19":1.059,"a19lo":1.030,"a19hi":1.088,"b20":0.803,"b20lo":0.772,"b20hi":0.834,"b19":0.858,"b19lo":0.827,"b19hi":0.889,"mean7":17},
{"date":"2020-06-10","a20":1.072,"a20lo":1.043,"a20hi":1.101,"a19":1.059,"a19lo":1.030,"a19hi":1.087,"b20":0.803,"b20lo":0.772,"b20hi":0.834,"b19":0.858,"b19lo":0.827,"b19hi":0.889,"mean7":18},
{"date":"2020-06-11","a20":1.070,"a20lo":1.041,"a20hi":1.099,"a19":1.058,"a19lo":1.029,"a19hi":1.086,"b20":0.803,"b20lo":0.772,"b20hi":0.834,"b19":0.858,"b19lo":0.827,"b19hi":0.889,"mean7":18},
{"date":"2020-06-12","a20":1.069,"a20lo":1.040,"a20hi":1.098,"a19":1.058,"a19lo":1.029,"a19hi":1.086,"b20":0.803,"b20lo":0.772,"b20hi":0.834,"b19":0.858,"b19lo":0.827,"b19hi":0.889,"mean7":18},
{"date":"2020-06-13","a20":1.068,"a20lo":1.039,"a20hi":1.097,"a19":1.058,"a19lo":1.028,"a19hi":1.085,"b20":0.803,"b20lo":0.772,"b20hi":0.834,"b19":0.858,"b19lo":0.827,"b19hi":0.889,"mean7":19},
{"date":"2020-06-14","a20":1.066,"a20lo":1.036,"a20hi":1.096,"a19":1.057,"a19lo":1.028,"a19hi":1.085,"b20":0.803,"b20lo":0.772,"b20hi":0.834,"b19":0.858,"b19lo":0.827,"b19hi":0.889,"mean7":19},
{"date":"2020-06-15","a20":1.064,"a20lo":1.034,"a20hi":1.094,"a19":1.057,"a19lo":1.027,"a19hi":1.084,"b20":0.803,"b20lo":0.771,"b20hi":0.835,"b19":0.858,"b19lo":0.827,"b19hi":0.889,"mean7":19},
{"date":"2020-06-16","a20":1.062,"a20lo":1.031,"a20hi":1.093,"a19":1.056,"a19lo":1.026,"a19hi":1.084,"b20":0.802,"b20lo":0.769,"b20hi":0.835,"b19":0.858,"b19lo":0.827,"b19hi":0.889,"mean7":19},
{"date":"2020-06-17","a20":1.061,"a20lo":1.030,"a20hi":1.092,"a19":1.055,"a19lo":1.025,"a19hi":1.084,"b20":0.802,"b20lo":0.768,"b20hi":0.836,"b19":0.858,"b19lo":0.826,"b19hi":0.890,"mean7":19},
{"date":"2020-06-18","a20":1.059,"a20lo":1.027,"a20hi":1.091,"a19":1.055,"a19lo":1.024,"a19hi":1.084,"b20":0.801,"b20lo":0.766,"b20hi":0.836,"b19":0.858,"b19lo":0.825,"b19hi":0.891,"mean7":20},
{"date":"2020-06-19","a20":1.057,"a20lo":1.025,"a20hi":1.089,"a19":1.054,"a19lo":1.023,"a19hi":1.084,"b20":0.800,"b20lo":0.764,"b20hi":0.836,"b19":0.858,"b19lo":0.825,"b19hi":0.891,"mean7":21},
{"date":"2020-06-20","a20":1.055,"a20lo":1.022,"a20hi":1.088,"a19":1.053,"a19lo":1.022,"a19hi":1.084,"b20":0.799,"b20lo":0.763,"b20hi":0.835,"b19":0.858,"b19lo":0.824,"b19hi":0.892,"mean7":22},
{"date":"2020-06-21","a20":1.053,"a20lo":1.019,"a20hi":1.087,"a19":1.053,"a19lo":1.021,"a19hi":1.084,"b20":0.798,"b20lo":0.761,"b20hi":0.835,"b19":0.858,"b19lo":0.823,"b19hi":0.893,"mean7":23},
{"date":"2020-06-22","a20":1.051,"a20lo":1.016,"a20hi":1.086,"a19":1.052,"a19lo":1.019,"a19hi":1.085,"b20":0.797,"b20lo":0.759,"b20hi":0.835,"b19":0.857,"b19lo":0.821,"b19hi":0.893,"mean7":24},
{"date":"2020-06-23","a20":1.049,"a20lo":1.013,"a20hi":1.085,"a19":1.052,"a19lo":1.018,"a19hi":1.085,"b20":0.796,"b20lo":0.757,"b20hi":0.835,"b19":0.857,"b19lo":0.820,"b19hi":0.894,"mean7":25},
{"date":"2020-06-24","a20":1.047,"a20lo":1.010,"a20hi":1.084,"a19":1.051,"a19lo":1.016,"a19hi":1.086,"b20":0.795,"b20lo":0.754,"b20hi":0.836,"b19":0.857,"b19lo":0.819,"b19hi":0.895,"mean7":26},
{"date":"2020-06-25","a20":1.046,"a20lo":1.009,"a20hi":1.083,"a19":1.050,"a19lo":1.014,"a19hi":1.087,"b20":0.794,"b20lo":0.752,"b20hi":0.836,"b19":0.857,"b19lo":0.818,"b19hi":0.896,"mean7":27},
{"date":"2020-06-26","a20":1.044,"a20lo":1.006,"a20hi":1.082,"a19":1.050,"a19lo":1.012,"a19hi":1.087,"b20":0.793,"b20lo":0.750,"b20hi":0.836,"b19":0.856,"b19lo":0.815,"b19hi":0.897,"mean7":28},
{"date":"2020-06-27","a20":1.042,"a20lo":1.003,"a20hi":1.081,"a19":1.049,"a19lo":1.011,"a19hi":1.088,"b20":0.792,"b20lo":0.747,"b20hi":0.837,"b19":0.856,"b19lo":0.814,"b19hi":0.898,"mean7":29},
{"date":"2020-06-28","a20":1.040,"a20lo":1.000,"a20hi":1.080,"a19":1.048,"a19lo":1.009,"a19hi":1.089,"b20":0.791,"b20lo":0.745,"b20hi":0.837,"b19":0.856,"b19lo":0.812,"b19hi":0.900,"mean7":29},
{"date":"2020-06-29","a20":1.039,"a20lo":0.998,"a20hi":1.080,"a19":1.048,"a19lo":1.007,"a19hi":1.089,"b20":0.790,"b20lo":0.742,"b20hi":0.838,"b19":0.856,"b19lo":0.811,"b19hi":0.901,"mean7":30},
{"date":"2020-06-30","a20":1.037,"a20lo":0.994,"a20hi":1.080,"a19":1.047,"a19lo":1.005,"a19hi":1.090,"b20":0.789,"b20lo":0.740,"b20hi":0.838,"b19":0.856,"b19lo":0.809,"b19hi":0.903,"mean7":30}
]
},
"vconcat": [
{
  "width": 724, "height": 99,
  "resolve": {"scale": {"x": "independent", "y": "independent"}},
  "layer": [
    {"data": {"values": [{"box": "legend"}]},
     "mark": {"type": "rect", "fill": "transparent", "stroke": "#666", "strokeWidth": 1},
     "encoding": {
       "x": {"datum": 0, "type": "quantitative", "scale": {"domain": [0, 1], "range": [-56, 724], "nice": false, "zero": false}, "axis": null},
       "x2": {"datum": 1},
       "y": {"datum": 0, "type": "quantitative", "scale": {"domain": [0, 1], "range": [0, 99], "nice": false, "zero": false}, "axis": null},
       "y2": {"datum": 1}
     }},
    {"data": {"name": "legendText"},
     "mark": {"type": "text", "align": "left", "baseline": "middle", "fontSize": 12.2, "color": "#222"},
     "encoding": {
       "x": {"field": "col", "type": "ordinal", "scale": {"type": "point", "range": [-45, 270], "padding": 0}, "axis": null},
       "y": {"field": "row", "type": "ordinal", "scale": {"type": "point", "range": [14, 72], "padding": 0}, "axis": null},
       "text": {"field": "text"}
     }}
  ]
},
{
  "width": 724, "height": 40,
  "data": {"values": [{"panel": "A", "title": "Daily responses per Census tract by year"}]},
  "encoding": {
    "x": {"field": "panel", "type": "nominal", "scale": {"type": "point", "range": [-46, -46]}, "axis": null},
    "y": {"field": "panel", "type": "nominal", "scale": {"type": "point", "range": [21, 21]}, "axis": null}
  },
  "layer": [
    {"mark": {"type": "point", "shape": "square", "size": 342, "filled": false, "color": "#444", "strokeWidth": 1.3, "opacity": 1}},
    {"mark": {"type": "text", "fontWeight": "bold", "fontSize": 13, "color": "#222", "baseline": "middle"}, "encoding": {"text": {"field": "panel"}}},
    {"mark": {"type": "text", "align": "left", "dx": 17, "fontSize": 13, "color": "#222", "baseline": "middle"}, "encoding": {"text": {"field": "title"}}}
  ]
},
{
  "width": 709, "height": 275,
  "layer": [
    {"data": {"name": "daily"},
     "mark": {"type": "bar", "width": 4.2, "filled": false, "color": "#fb8c22", "strokeWidth": 1},
     "encoding": {
       "x": {"field": "date", "type": "temporal", "scale": {"type": "utc", "domain": [{"year": 2020, "month": 2, "date": 27, "hours": 11, "utc": true}, {"year": 2020, "month": 7, "date": 5, "utc": true}]},
             "axis": {"title": "Date", "format": "%-m/%-d", "values": [{"year":2020,"month":3,"date":1,"utc":true},{"year":2020,"month":3,"date":15,"utc":true},{"year":2020,"month":3,"date":29,"utc":true},{"year":2020,"month":4,"date":12,"utc":true},{"year":2020,"month":4,"date":26,"utc":true},{"year":2020,"month":5,"date":10,"utc":true},{"year":2020,"month":5,"date":24,"utc":true},{"year":2020,"month":6,"date":7,"utc":true},{"year":2020,"month":6,"date":21,"utc":true},{"year":2020,"month":7,"date":5,"utc":true}]}},
       "y": {"field": "a19lo", "type": "quantitative", "scale": {"domain": [0.95, 1.2], "nice": false, "zero": false}, "axis": {"title": "No. per tract, d", "values": [0.95, 1, 1.05, 1.1, 1.15, 1.2], "format": ".2f"}},
       "y2": {"field": "a19hi"}
     }},
    {"data": {"name": "daily"},
     "mark": {"type": "bar", "width": 4.2, "filled": false, "color": "#4a6e6d", "strokeWidth": 1.1},
     "encoding": {"x": {"field": "date", "type": "temporal"}, "y": {"field": "a20lo", "type": "quantitative", "axis": {"title": "No. per tract, d", "values": [0.95, 1, 1.05, 1.1, 1.15, 1.2], "format": ".2f"}}, "y2": {"field": "a20hi"}}},
    {"data": {"name": "daily"},
     "mark": {"type": "line", "color": "#f7820c", "strokeWidth": 2.2},
     "encoding": {"x": {"field": "date", "type": "temporal"}, "y": {"field": "a19", "type": "quantitative", "axis": {"title": "No. per tract, d", "values": [0.95, 1, 1.05, 1.1, 1.15, 1.2], "format": ".2f"}}}},
    {"data": {"name": "daily"},
     "mark": {"type": "line", "color": "#2a5252", "strokeWidth": 2.2, "interpolate": "step"},
     "encoding": {"x": {"field": "date", "type": "temporal"}, "y": {"field": "a20", "type": "quantitative", "axis": {"title": "No. per tract, d", "values": [0.95, 1, 1.05, 1.1, 1.15, 1.2], "format": ".2f"}}}},
    {"data": {"name": "events"},
     "mark": {"type": "rule", "color": "#22e3f0", "strokeWidth": 1, "strokeDash": [2, 2]},
     "encoding": {"x": {"field": "date", "type": "temporal"}, "y": {"datum": 1.184, "axis": {"title": "No. per tract, d", "values": [0.95, 1, 1.05, 1.1, 1.15, 1.2], "format": ".2f"}}, "y2": {"datum": 0.95}}},
    {"data": {"name": "events"},
     "mark": {"type": "text", "color": "#22e3f0", "fontSize": 13.5, "baseline": "middle"},
     "encoding": {"x": {"field": "date", "type": "temporal"}, "y": {"datum": 1.189, "axis": {"title": "No. per tract, d", "values": [0.95, 1, 1.05, 1.1, 1.15, 1.2], "format": ".2f"}}, "text": {"field": "ev"}}},
    {"data": {"values": [{"date": "2020-04-07T14:00:00Z", "value": 1.170, "label": "2020"}, {"date": "2020-04-07T14:00:00Z", "value": 1.012, "label": "2019"}]},
     "mark": {"type": "text", "fontSize": 13.5, "color": "#222", "baseline": "middle"},
     "encoding": {"x": {"field": "date", "type": "temporal"}, "y": {"field": "value", "type": "quantitative", "axis": {"title": "No. per tract, d", "values": [0.95, 1, 1.05, 1.1, 1.15, 1.2], "format": ".2f"}}, "text": {"field": "label"}}}
  ]
},
{
  "width": 724, "height": 68,
  "data": {"values": [{"panel": "B", "title": "Excluding refusals and prehospital deaths"}]},
  "encoding": {
    "x": {"field": "panel", "type": "nominal", "scale": {"type": "point", "range": [-46, -46]}, "axis": null},
    "y": {"field": "panel", "type": "nominal", "scale": {"type": "point", "range": [47, 47]}, "axis": null}
  },
  "layer": [
    {"mark": {"type": "point", "shape": "square", "size": 342, "filled": false, "color": "#444", "strokeWidth": 1.3, "opacity": 1}},
    {"mark": {"type": "text", "fontWeight": "bold", "fontSize": 13, "color": "#222", "baseline": "middle"}, "encoding": {"text": {"field": "panel"}}},
    {"mark": {"type": "text", "align": "left", "dx": 17, "fontSize": 13, "color": "#222", "baseline": "middle"}, "encoding": {"text": {"field": "title"}}}
  ]
},
{
  "width": 709, "height": 276,
  "layer": [
    {"data": {"name": "daily"},
     "mark": {"type": "bar", "width": 4.2, "filled": false, "color": "#fb8c22", "strokeWidth": 1},
     "encoding": {
       "x": {"field": "date", "type": "temporal", "scale": {"type": "utc", "domain": [{"year": 2020, "month": 2, "date": 27, "hours": 11, "utc": true}, {"year": 2020, "month": 7, "date": 5, "utc": true}]},
             "axis": {"title": "Date", "format": "%-m/%-d", "values": [{"year":2020,"month":3,"date":1,"utc":true},{"year":2020,"month":3,"date":15,"utc":true},{"year":2020,"month":3,"date":29,"utc":true},{"year":2020,"month":4,"date":12,"utc":true},{"year":2020,"month":4,"date":26,"utc":true},{"year":2020,"month":5,"date":10,"utc":true},{"year":2020,"month":5,"date":24,"utc":true},{"year":2020,"month":6,"date":7,"utc":true},{"year":2020,"month":6,"date":21,"utc":true},{"year":2020,"month":7,"date":5,"utc":true}]}},
       "y": {"field": "b19lo", "type": "quantitative", "scale": {"domain": [0.6, 1.1], "nice": false, "zero": false}, "axis": {"title": "No. per tract, d", "values": [0.6, 0.7, 0.8, 0.9, 1.0, 1.1], "format": ".1f"}},
       "y2": {"field": "b19hi"}
     }},
    {"data": {"name": "daily"},
     "mark": {"type": "bar", "width": 4.2, "filled": false, "color": "#4a6e6d", "strokeWidth": 1.1},
     "encoding": {"x": {"field": "date", "type": "temporal"}, "y": {"field": "b20lo", "type": "quantitative", "axis": {"title": "No. per tract, d", "values": [0.6, 0.7, 0.8, 0.9, 1.0, 1.1], "format": ".1f"}}, "y2": {"field": "b20hi"}}},
    {"data": {"name": "daily"},
     "mark": {"type": "line", "color": "#f7820c", "strokeWidth": 2.2},
     "encoding": {"x": {"field": "date", "type": "temporal"}, "y": {"field": "b19", "type": "quantitative", "axis": {"title": "No. per tract, d", "values": [0.6, 0.7, 0.8, 0.9, 1.0, 1.1], "format": ".1f"}}}},
    {"data": {"name": "daily"},
     "mark": {"type": "line", "color": "#2a5252", "strokeWidth": 2.2, "interpolate": "step"},
     "encoding": {"x": {"field": "date", "type": "temporal"}, "y": {"field": "b20", "type": "quantitative", "axis": {"title": "No. per tract, d", "values": [0.6, 0.7, 0.8, 0.9, 1.0, 1.1], "format": ".1f"}}}},
    {"data": {"name": "events"},
     "mark": {"type": "rule", "color": "#22e3f0", "strokeWidth": 1, "strokeDash": [2, 2]},
     "encoding": {"x": {"field": "date", "type": "temporal"}, "y": {"datum": 1.0655, "axis": {"title": "No. per tract, d", "values": [0.6, 0.7, 0.8, 0.9, 1.0, 1.1], "format": ".1f"}}, "y2": {"datum": 0.6}}},
    {"data": {"name": "events"},
     "mark": {"type": "text", "color": "#22e3f0", "fontSize": 13.5, "baseline": "middle"},
     "encoding": {"x": {"field": "date", "type": "temporal"}, "y": {"datum": 1.0806, "axis": {"title": "No. per tract, d", "values": [0.6, 0.7, 0.8, 0.9, 1.0, 1.1], "format": ".1f"}}, "text": {"field": "ev"}}},
    {"data": {"values": [{"date": "2020-04-17T13:00:00Z", "value": 0.944, "label": "2019"}, {"date": "2020-04-17T13:00:00Z", "value": 0.748, "label": "2020"}]},
     "mark": {"type": "text", "fontSize": 13.5, "color": "#222", "baseline": "middle"},
     "encoding": {"x": {"field": "date", "type": "temporal"}, "y": {"field": "value", "type": "quantitative", "axis": {"title": "No. per tract, d", "values": [0.6, 0.7, 0.8, 0.9, 1.0, 1.1], "format": ".1f"}}, "text": {"field": "label"}}}
  ]
},
{
  "width": 724, "height": 67,
  "data": {"values": [{"panel": "C", "title": "Daily COVID-19 new cases"}]},
  "encoding": {
    "x": {"field": "panel", "type": "nominal", "scale": {"type": "point", "range": [-46, -46]}, "axis": null},
    "y": {"field": "panel", "type": "nominal", "scale": {"type": "point", "range": [48, 48]}, "axis": null}
  },
  "layer": [
    {"mark": {"type": "point", "shape": "square", "size": 342, "filled": false, "color": "#444", "strokeWidth": 1.3, "opacity": 1}},
    {"mark": {"type": "text", "fontWeight": "bold", "fontSize": 13, "color": "#222", "baseline": "middle"}, "encoding": {"text": {"field": "panel"}}},
    {"mark": {"type": "text", "align": "left", "dx": 17, "fontSize": 13, "color": "#222", "baseline": "middle"}, "encoding": {"text": {"field": "title"}}}
  ]
},
{
  "width": 709, "height": 192,
  "layer": [
    {"data": {"name": "cases"},
     "mark": {"type": "bar", "width": 5.5, "color": "#2b4f4f", "stroke": "#ffffff", "strokeWidth": 0.7, "strokeOpacity": 0.6},
     "encoding": {
       "x": {"field": "date", "type": "temporal", "scale": {"type": "utc", "domain": [{"year": 2020, "month": 2, "date": 27, "hours": 11, "utc": true}, {"year": 2020, "month": 7, "date": 5, "utc": true}]},
             "axis": {"title": "Date", "format": "%-m/%-d", "values": [{"year":2020,"month":3,"date":1,"utc":true},{"year":2020,"month":3,"date":15,"utc":true},{"year":2020,"month":3,"date":29,"utc":true},{"year":2020,"month":4,"date":12,"utc":true},{"year":2020,"month":4,"date":26,"utc":true},{"year":2020,"month":5,"date":10,"utc":true},{"year":2020,"month":5,"date":24,"utc":true},{"year":2020,"month":6,"date":7,"utc":true},{"year":2020,"month":6,"date":21,"utc":true},{"year":2020,"month":7,"date":5,"utc":true}]}},
       "y": {"field": "n", "type": "quantitative", "scale": {"domain": [-30, 500], "nice": false, "zero": false}, "axis": {"title": "Count", "values": [0, 100, 200, 300, 400, 500]}},
       "y2": {"datum": 0}
     }},
    {"data": {"name": "events"},
     "mark": {"type": "rule", "color": "#22e3f0", "strokeWidth": 1, "strokeDash": [2, 2]},
     "encoding": {"x": {"field": "date", "type": "temporal"}, "y": {"datum": 450, "axis": {"title": "Count", "values": [0, 100, 200, 300, 400, 500]}}, "y2": {"datum": -30}}},
    {"data": {"name": "events"},
     "mark": {"type": "text", "color": "#22e3f0", "fontSize": 13.5, "baseline": "middle"},
     "encoding": {"x": {"field": "date", "type": "temporal"}, "y": {"datum": 471, "axis": {"title": "Count", "values": [0, 100, 200, 300, 400, 500]}}, "text": {"field": "ev"}}},
    {"data": {"name": "daily"},
     "mark": {"type": "line", "strokeWidth": 2.2},
     "encoding": {
       "x": {"field": "date", "type": "temporal"},
       "y": {"field": "mean7", "type": "quantitative", "axis": {"title": "Count", "values": [0, 100, 200, 300, 400, 500]}},
       "color": {"datum": "7 d mean", "type": "nominal", "scale": {"range": ["#1ee4ef"]},
                 "legend": {"orient": "none", "legendX": 596, "legendY": 887, "title": null, "symbolType": "stroke", "symbolSize": 1600, "clipHeight": 16, "symbolStrokeWidth": 2.2, "labelFontSize": 13, "labelColor": "#222", "strokeColor": "#555", "padding": 6, "fillColor": "#ffffff", "labelOffset": 6}}
     }}
  ]
}
]
}
